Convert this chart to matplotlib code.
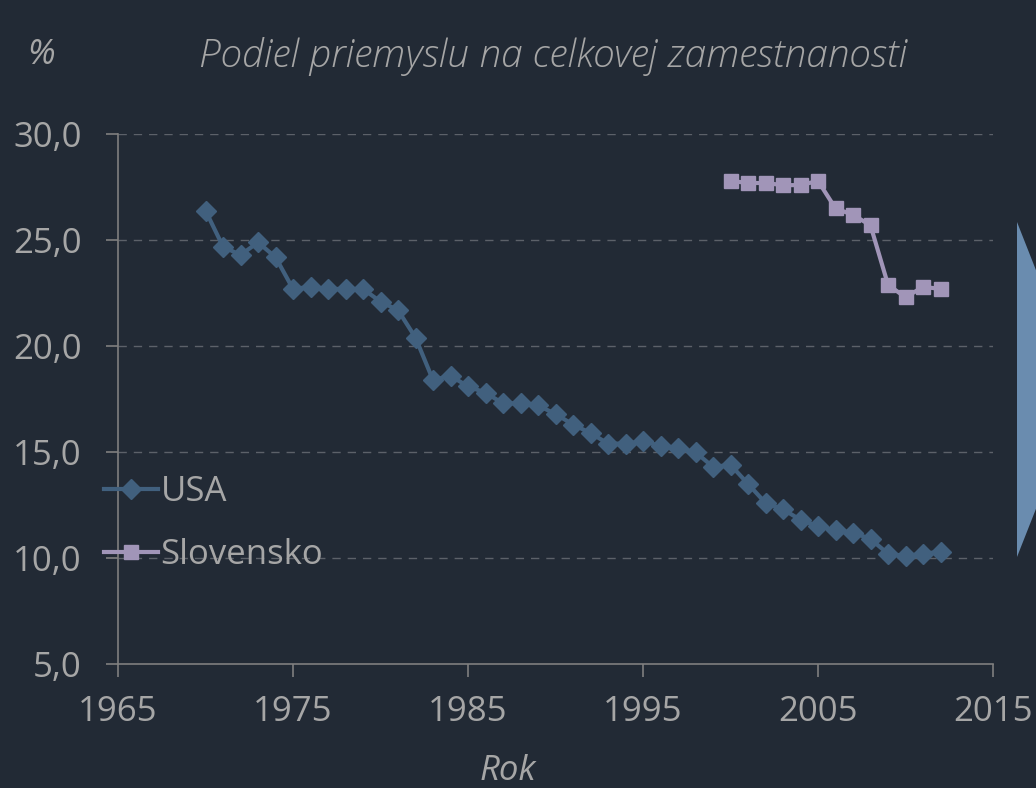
import numpy as np
import matplotlib
matplotlib.use('Agg')
import matplotlib.pyplot as plt
from matplotlib.patches import Polygon
from matplotlib.ticker import FuncFormatter

# data
usa_years = list(range(1970, 2013))
usa_values = [26.4, 24.7, 24.3, 24.9, 24.2, 22.7, 22.8, 22.7, 22.7, 22.7,
              22.1, 21.7, 20.4, 18.4, 18.6, 18.1, 17.8, 17.3, 17.3, 17.2,
              16.8, 16.3, 15.9, 15.4, 15.4, 15.5, 15.3, 15.2, 15.0, 14.3,
              14.4, 13.5, 12.6, 12.3, 11.8, 11.5, 11.3, 11.2, 10.9, 10.2,
              10.1, 10.2, 10.3]

svk_years = list(range(2000, 2013))
svk_values = [27.8, 27.7, 27.7, 27.6, 27.6, 27.8, 26.5, 26.2, 25.7, 22.9,
              22.3, 22.8, 22.7]

bg = '#222a35'
txt = '#a6a6a6'
usa_col = '#41607e'
svk_col = '#a195b8'

plt.rcParams['font.family'] = ['Open Sans', 'DejaVu Sans']

fig = plt.figure(figsize=(10.36, 7.88), dpi=100, facecolor=bg)
ax = fig.add_axes([0.1139, 0.1574, 0.9585 - 0.1139, 0.8296 - 0.1574])
ax.set_facecolor(bg)

ax.plot(usa_years, usa_values, color=usa_col, lw=3, marker='D', ms=10,
        mec=usa_col, mfc=usa_col, label='USA')
ax.plot(svk_years, svk_values, color=svk_col, lw=3, marker='s', ms=10.5,
        mec=svk_col, mfc=svk_col, label='Slovensko')

ax.set_xlim(1965, 2015)
ax.set_ylim(5, 30)
ax.set_xticks(range(1965, 2016, 10))
ax.set_yticks(np.arange(5, 31, 5))
ax.yaxis.set_major_formatter(FuncFormatter(lambda v, p: f'{v:.1f}'.replace('.', ',')))

for y in np.arange(10, 31, 5):
    ax.axhline(y, color='#5c6169', lw=1.0, ls=(0, (6, 5)), zorder=0)

for s in ['top', 'right']:
    ax.spines[s].set_visible(False)
for s in ['left', 'bottom']:
    ax.spines[s].set_color('#7f7f7f')
    ax.spines[s].set_linewidth(1.2)

ax.tick_params(axis='both', colors='#7f7f7f', length=9, width=1.2,
               labelsize=25, labelcolor=txt)
ax.tick_params(axis='x', pad=13)
ax.tick_params(axis='y', pad=17)

leg = ax.legend(loc='center left', bbox_to_anchor=(-0.032, 0.265), frameon=False,
                fontsize=25, labelcolor=txt, handlelength=1.55, handletextpad=0.08,
                labelspacing=0.85, borderaxespad=0)

fig.text(0.026, 0.93, '%', fontsize=25, style='italic', color=txt, va='center')
fig.text(0.534, 0.928, 'Podiel priemyslu na celkovej zamestnanosti', fontsize=28,
         style='italic', color=txt, va='center', ha='center', fontweight='light')
fig.text(0.49, 1 - 754 / 788, 'Rok', fontsize=25, style='italic', color=txt,
         va='top', ha='center')

# arrow shape on the right edge
arrow = Polygon([[1017 / 1036, 1 - 222 / 788], [1083 / 1036, 1 - 389.5 / 788],
                 [1017 / 1036, 1 - 557 / 788]], closed=True,
                facecolor='#6a8caf', edgecolor='none', transform=fig.transFigure)
fig.patches.append(arrow)

fig.savefig('out.png', dpi=100, facecolor=bg)
